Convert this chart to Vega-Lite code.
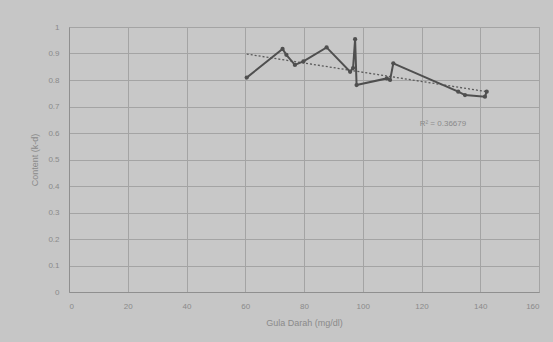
{
  "$schema": "https://vega.github.io/schema/vega-lite/v6.json",
  "autosize": "none",
  "width": 470,
  "height": 265,
  "padding": {"left": 69, "top": 27, "right": 14, "bottom": 50},
  "background": "#c6c6c6",
  "config": {
    "view": {"stroke": "#9a9a9a", "strokeWidth": 1, "fill": "#c8c8c8"},
    "axis": {
      "labelColor": "#8a8a8a",
      "titleColor": "#8a8a8a",
      "labelFont": "Liberation Sans",
      "titleFont": "Liberation Sans",
      "labelFontSize": 8,
      "titleFontSize": 9,
      "titleFontWeight": "normal",
      "gridColor": "#a4a4a4",
      "gridWidth": 1,
      "domainColor": "#8f8f8f",
      "ticks": false,
      "labelOverlap": false,
      "labelPadding": 10,
      "titlePadding": 8,
      "labelExpr": "'' + datum.value"
    }
  },
  "datasets": {
    "pts": [
      {"x": 60.5, "y": 0.809},
      {"x": 72.7, "y": 0.917},
      {"x": 74.0, "y": 0.895},
      {"x": 76.9, "y": 0.857},
      {"x": 79.8, "y": 0.870},
      {"x": 87.7, "y": 0.923},
      {"x": 95.7, "y": 0.831},
      {"x": 96.7, "y": 0.845},
      {"x": 97.4, "y": 0.954},
      {"x": 97.9, "y": 0.781},
      {"x": 108.2, "y": 0.806},
      {"x": 109.3, "y": 0.800},
      {"x": 110.4, "y": 0.863},
      {"x": 132.5, "y": 0.756},
      {"x": 134.8, "y": 0.743},
      {"x": 141.6, "y": 0.737},
      {"x": 142.2, "y": 0.756}
    ],
    "trend": [
      {"x": 60.5, "y": 0.898},
      {"x": 142.2, "y": 0.756}
    ],
    "ann": [
      {"x": 127.3, "y": 0.634, "label": "R² = 0.36679"}
    ]
  },
  "encoding": {
    "x": {
      "field": "x", "type": "quantitative",
      "scale": {"domain": [0, 160], "nice": false},
      "axis": {"values": [0, 20, 40, 60, 80, 100, 120, 140, 160], "title": "Gula Darah (mg/dl)"}
    },
    "y": {
      "field": "y", "type": "quantitative",
      "scale": {"domain": [0, 1], "nice": false},
      "axis": {"values": [0, 0.1, 0.2, 0.3, 0.4, 0.5, 0.6, 0.7, 0.8, 0.9, 1], "title": "Content (k-d)"}
    }
  },
  "layer": [
    {
      "data": {"name": "trend"},
      "mark": {"type": "line", "color": "#5a5a5a", "strokeWidth": 1.3, "strokeDash": [2, 2]}
    },
    {
      "data": {"name": "pts"},
      "mark": {"type": "line", "color": "#4f4f4f", "strokeWidth": 2, "point": {"filled": true, "size": 18, "color": "#4f4f4f"}},
      "encoding": {
        "order": {"field": "x"}
      }
    },
    {
      "data": {"name": "ann"},
      "mark": {"type": "text", "color": "#8a8a8a", "fontSize": 8, "font": "Liberation Sans"},
      "encoding": {
        "text": {"field": "label"}
      }
    }
  ]
}
